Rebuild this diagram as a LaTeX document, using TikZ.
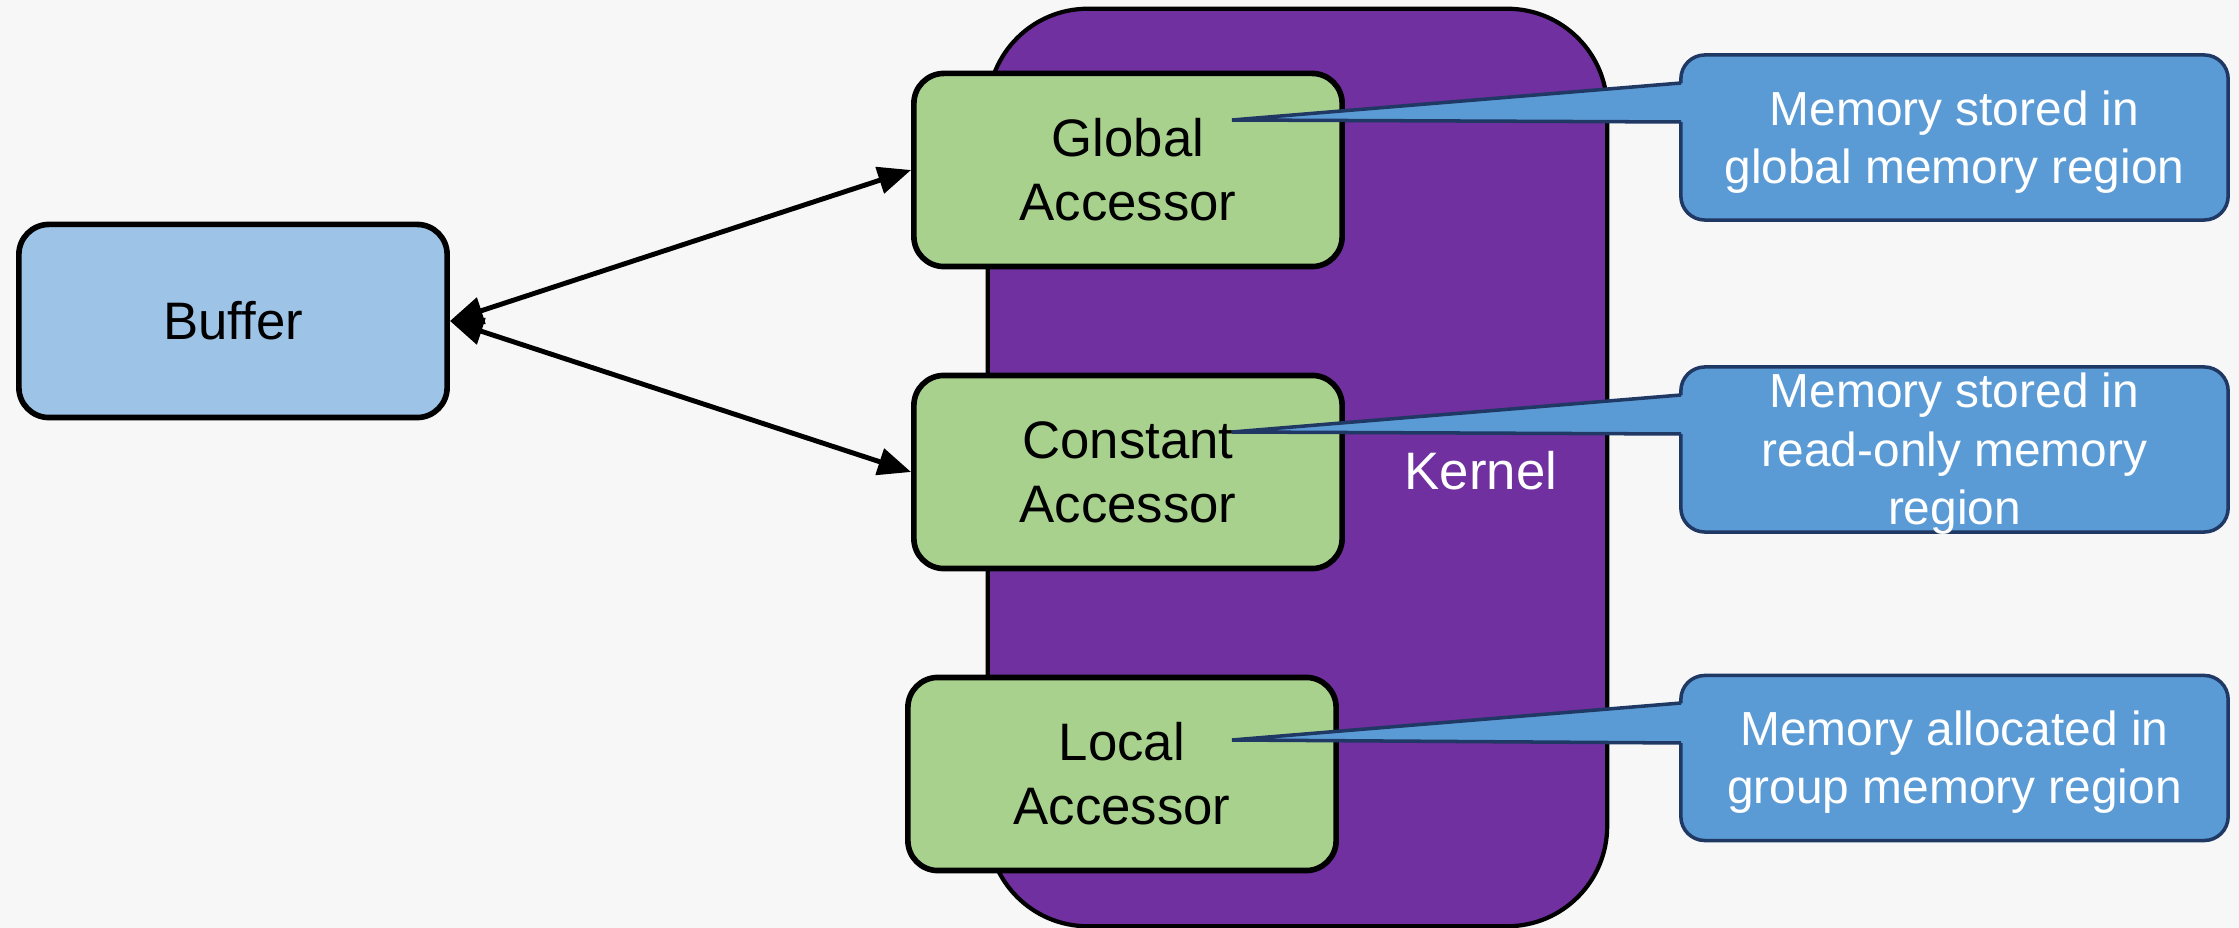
\documentclass[tikz,border=0pt]{standalone}
\usepackage{fontspec}
\setmainfont{Liberation Sans}
\usetikzlibrary{arrows.meta}
\definecolor{bgcol}{HTML}{F7F7F7}
\definecolor{bufferblue}{HTML}{9DC3E6}
\definecolor{accgreen}{HTML}{A9D18E}
\definecolor{kernelpurple}{HTML}{7030A0}
\definecolor{noteblue}{HTML}{5B9BD5}
\definecolor{notenavy}{HTML}{1F3864}

\begin{document}
\begin{tikzpicture}[x=0.01cm,y=-0.01cm,
  blockbox/.style={draw=black, line width=1.6pt, rounded corners=0.3cm,
    minimum width=4.28cm, minimum height=1.93cm, inner sep=0pt,
    align=center, font=\fontsize{15}{18.2}\selectfont},
  accbox/.style={blockbox, fill=accgreen},
  kernelbox/.style={draw=black, line width=1.2pt, fill=kernelpurple,
    rounded corners=1.0cm, minimum width=6.19cm, minimum height=9.17cm, inner sep=0pt},
  notebox/.style={draw=notenavy, line width=1pt, fill=noteblue, rounded corners=0.24cm,
    minimum width=5.47cm, minimum height=1.65cm, inner sep=0pt},
  notetext/.style={align=center, inner sep=0pt, text=white,
    font=\fontsize{13.6}{16.6}\selectfont},
  notefill/.style={fill=noteblue},
  noteedge/.style={draw=notenavy, line width=1pt, line join=miter},
  linkarrow/.style={line width=1.4pt,
    {Triangle[length=0.33cm,width=0.27cm]}-{Triangle[length=0.33cm,width=0.27cm]}}
]
% page background
\fill[bgcol] (0,0) rectangle (2239,928);
\useasboundingbox (0,0) rectangle (2239,928);

% kernel region
\node[kernelbox] (kernel) at (1297.5,467.5) {};
\node[text=white, font=\fontsize{15}{18.2}\selectfont] (kernellabel) at (1481,471) {Kernel};

% buffer and accessors
\node[blockbox, fill=bufferblue] (buf) at (233,321) {\raisebox{-2pt}{Buffer}};
\node[accbox] (glob) at (1128,170) {Global\\Accessor};
\node[accbox] (const) at (1128,472) {Constant\\Accessor};
\node[accbox] (local) at (1122,774) {Local\\Accessor};

% buffer <-> accessor links
\draw[linkarrow] (buf.east) -- (glob.west);
\draw[linkarrow] (buf.east) -- (const.west);

% note boxes
\node[notebox] (n1) at (1954.5,137.5) {};
\node[notebox] (n2) at (1954.5,449.5) {};
\node[notebox] (n3) at (1954.5,758) {};

% note pointers: tip, upper and lower base points on the box edge
\coordinate (t1) at (1232,120);
\coordinate (a1) at (1681,83);  \coordinate (b1) at (1681,122);
\coordinate (a1i) at (1686,83); \coordinate (b1i) at (1686,122);
\coordinate (t2) at (1232,432);
\coordinate (a2) at (1681,395); \coordinate (b2) at (1681,434);
\coordinate (a2i) at (1686,395); \coordinate (b2i) at (1686,434);
\coordinate (t3) at (1232,740);
\coordinate (a3) at (1681,703); \coordinate (b3) at (1681,743);
\coordinate (a3i) at (1686,703); \coordinate (b3i) at (1686,743);

\fill[notefill] (t1) -- (a1i) -- (b1i) -- cycle;
\draw[noteedge] (a1) -- (t1) -- (b1);
\fill[notefill] (t2) -- (a2i) -- (b2i) -- cycle;
\draw[noteedge] (a2) -- (t2) -- (b2);
\fill[notefill] (t3) -- (a3i) -- (b3i) -- cycle;
\draw[noteedge] (a3) -- (t3) -- (b3);

% note texts
\node[notetext] (n1txt) at (1954.5,142) {Memory stored in\\global memory region};
\node[notetext] (n2txt) at (1954.5,454) {Memory stored in\\read-only memory\\region};
\node[notetext] (n3txt) at (1954.5,762) {Memory allocated in\\group memory region};
\end{tikzpicture}
\end{document}
